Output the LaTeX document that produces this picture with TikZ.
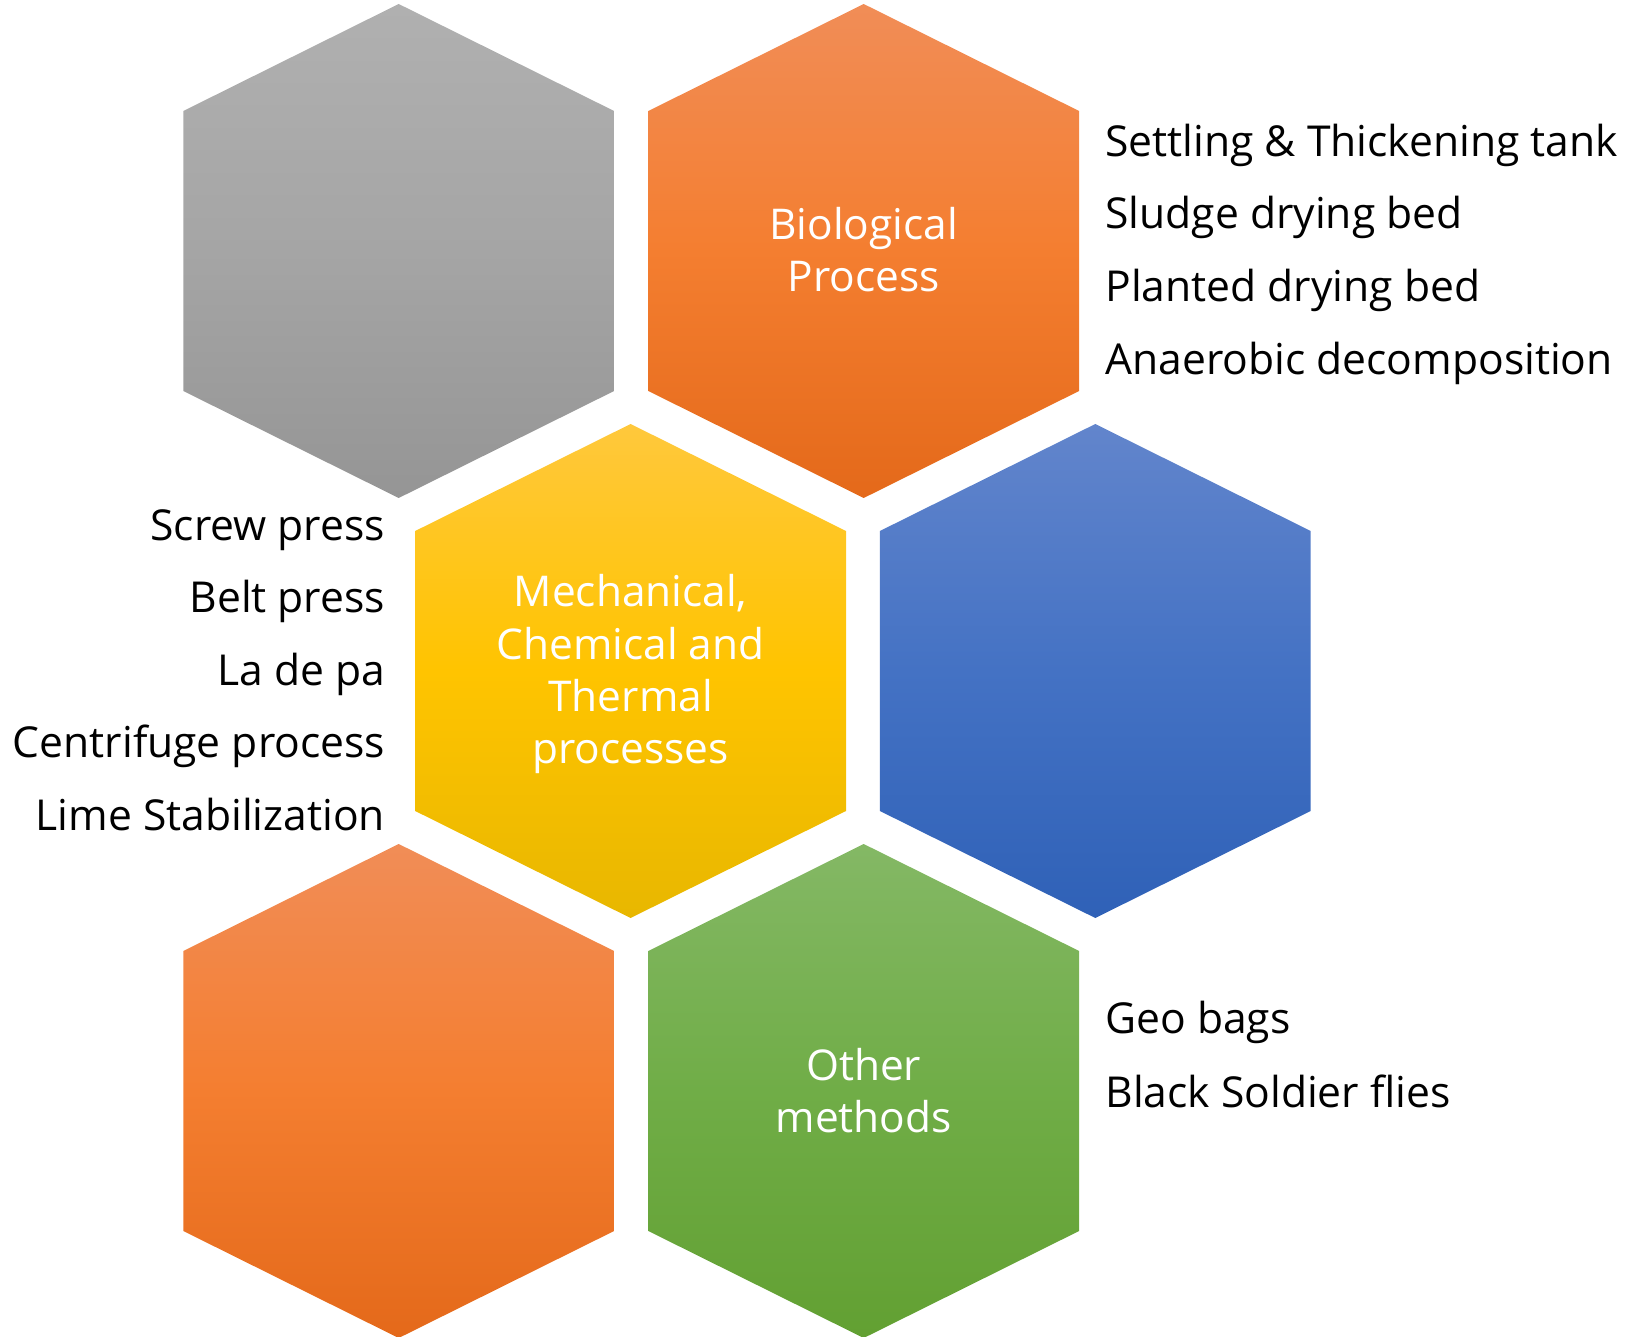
\documentclass[tikz,border=0pt]{standalone}
\usepackage{fontspec}
\setmainfont{Open Sans}
\newcommand\hexat[2]{(#1,#2) -- ++(215.4,107) -- ++(0,280) -- ++(-215.4,107) -- ++(-215.4,-107) -- ++(0,-280) -- cycle}
\definecolor{grayT}{HTML}{B0B0B0}\definecolor{grayM}{HTML}{A5A5A5}\definecolor{grayB}{HTML}{959595}
\definecolor{orT}{HTML}{F18D57}\definecolor{orM}{HTML}{F47E30}\definecolor{orB}{HTML}{E4691A}
\definecolor{yeT}{HTML}{FFC83C}\definecolor{yeM}{HTML}{FFC400}\definecolor{yeB}{HTML}{E8B700}
\definecolor{blT}{HTML}{6285CC}\definecolor{blM}{HTML}{4472C4}\definecolor{blB}{HTML}{2F61B7}
\definecolor{grT}{HTML}{84B865}\definecolor{grM}{HTML}{70AD47}\definecolor{grB}{HTML}{62A032}
\begin{document}
\begin{tikzpicture}[x=0.5pt,y=-0.5pt,
  hexgray/.style={top color=grayT,bottom color=grayB,middle color=grayM},
  hexorange/.style={top color=orT,bottom color=orB,middle color=orM},
  hexyellow/.style={top color=yeT,bottom color=yeB,middle color=yeM},
  hexblue/.style={top color=blT,bottom color=blB,middle color=blM},
  hexgreen/.style={top color=grT,bottom color=grB,middle color=grM},
  sidetext/.style={inner sep=0pt,font=\fontsize{21.3pt}{25pt}\selectfont,text=black},
  lefttext/.style={sidetext,anchor=base east},
  righttext/.style={sidetext,anchor=base west},
  hextext/.style={inner sep=0pt,anchor=base,text=white,align=center}
]
\useasboundingbox (0,0) rectangle (1646,1337);
\clip (0,0) rectangle (1646,1337);
% hexagons
\path[hexgray]   \hexat{398.7}{4};
\path[hexorange] \hexat{863.7}{4};
\path[hexyellow] \hexat{630.6}{424};
\path[hexblue]   \hexat{1095.3}{424};
\path[hexorange] \hexat{398.7}{844};
\path[hexgreen]  \hexat{863.7}{844};
% hexagon labels (anchored at the baseline of the last line)
\node[hextext,font=\fontsize{21.2pt}{26pt}\selectfont] (bio) at (863.7,291.5) {Biological\\Process};
\node[hextext,font=\fontsize{21.2pt}{26.1pt}\selectfont] (mech) at (630.6,763.5) {Mechanical,\\Chemical and\\Thermal\\processes};
\node[hextext,font=\fontsize{21.2pt}{26pt}\selectfont] (other) at (863.7,1132.5) {Other\\methods};
% right texts (biological)
\node[righttext] (b1) at (1105,156.5) {Settling \& Thickening tank};
\node[righttext] (b2) at (1105,229) {Sludge drying bed};
\node[righttext] (b3) at (1105,301.5) {Planted drying bed};
\node[righttext] (b4) at (1105,374.5) {Anaerobic decomposition};
% left texts (mechanical)
\node[lefttext] (m1) at (385.5,540) {Screw press};
\node[lefttext] (m2) at (385.5,612.5) {Belt press};
\node[lefttext] (m3) at (385.5,685) {La de pa};
\node[lefttext] (m4) at (385.5,757.5) {Centrifuge process};
\node[lefttext] (m5) at (385.5,830) {Lime Stabilization};
% right texts (other)
\node[righttext] (o1) at (1105,1033.5) {Geo bags};
\node[righttext] (o2) at (1105,1107) {Black Soldier flies};
\end{tikzpicture}
\end{document}
